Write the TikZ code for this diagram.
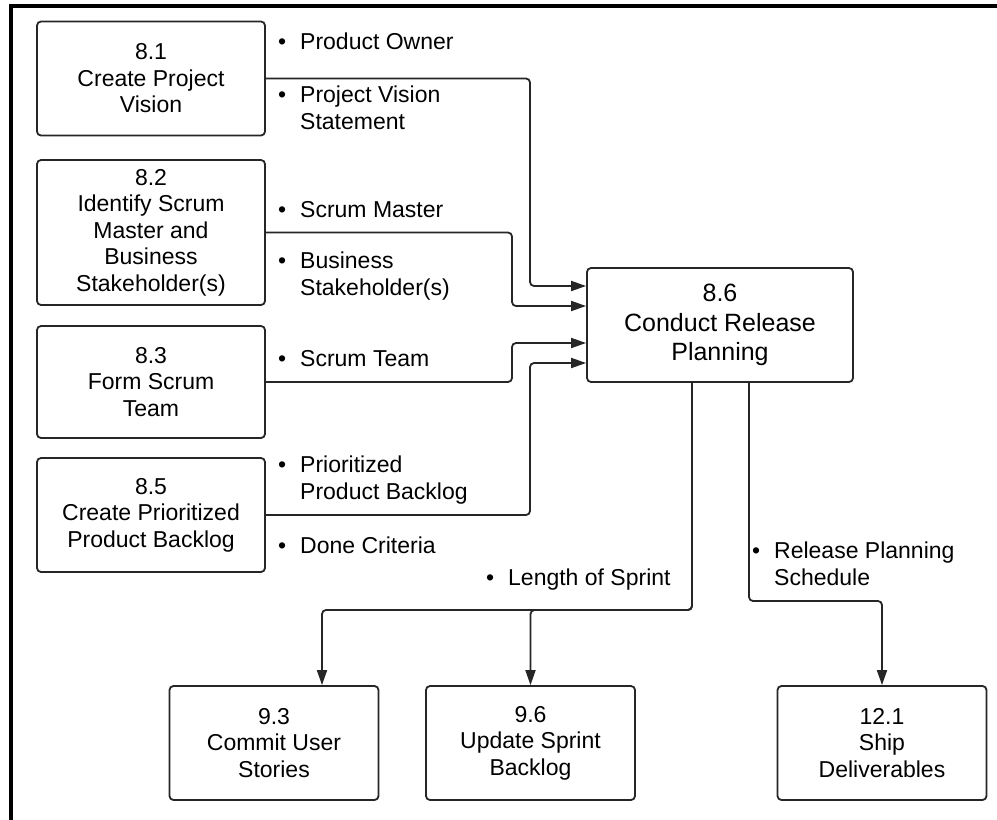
\documentclass[tikz,border=0pt]{standalone}
\usepackage{fontspec}
\setmainfont{Liberation Sans}
\usepackage{tikz}
\usetikzlibrary{arrows.meta}

\newcommand{\bul}{\makebox[22pt][l]{\textbullet}}
\newcommand{\ind}{\hspace*{22pt}}

\begin{document}
\begin{tikzpicture}[
    x=1pt, y=-1pt,
    font=\fontsize{23}{26.5}\selectfont,
    base/.style={draw=black!85, line width=1.8pt, rounded corners=4pt,
                 fill=white, align=center, inner sep=0pt},
    proc/.style={base, minimum width=228pt, minimum height=114pt},
    core/.style={base, minimum width=266pt, minimum height=114pt,
                 font=\fontsize{25}{29.5}\selectfont},
    nxt/.style={base, minimum width=209pt, minimum height=114pt},
    line/.style={-{Triangle[length=15pt, width=10pt]}, line width=1.8pt,
                 draw=black!85, rounded corners=4pt},
    lab/.style={anchor=base west, inner sep=0pt, align=left},
    frame/.style={line width=3.5pt, draw=black},
  ]
  \useasboundingbox (0,0) rectangle (997,820);
  % ---- frame ----
  \draw[frame] (11,820) -- (11,6) -- (997,6);
  % ---- inputs ----
  \node[proc] (p81) at (151,78.5) {8.1\\Create Project\\Vision};
  \node[proc, minimum height=145pt] (p82) at (151,232.5)
      {8.2\\Identify Scrum\\Master and\\Business\\Stakeholder(s)};
  \node[proc, minimum height=112pt] (p83) at (151,382) {8.3\\Form Scrum\\Team};
  \node[proc] (p85) at (151,515) {8.5\\Create Prioritized\\Product Backlog};
  % ---- main process ----
  \node[core] (p86) at (720,325) {8.6\\Conduct Release\\Planning};
  % ---- outputs ----
  \node[nxt] (p93)  at (274,743)   {9.3\\Commit User\\Stories};
  \node[nxt] (p96)  at (530.5,743) {9.6\\Update Sprint\\Backlog};
  \node[nxt] (p121) at (882,743)   {12.1\\Ship\\Deliverables};
  % ---- labels (base = last line) ----
  \node[lab] (lpo)  at (278,49)  {\bul Product Owner};
  \node[lab] (lpv)  at (278,129) {\bul Project Vision\\\ind Statement};
  \node[lab] (lsm)  at (278,217) {\bul Scrum Master};
  \node[lab] (lbs)  at (278,295) {\bul Business\\\ind Stakeholder(s)};
  \node[lab] (lst)  at (278,366) {\bul Scrum Team};
  \node[lab] (lppb) at (278,499) {\bul Prioritized\\\ind Product Backlog};
  \node[lab] (ldc)  at (278,553) {\bul Done Criteria};
  \node[lab] (lls)  at (486,585) {\bul Length of Sprint};
  \node[lab] (lrps) at (752,585) {\bul Release Planning\\\ind Schedule};
  % ---- arrows into 8.6 ----
  \draw[line] (p81.east) -| (530,286) -- ([yshift=39pt]p86.west);
  \draw[line] (p82.east) -| (512,306) -- ([yshift=19pt]p86.west);
  \draw[line] (p83.east) -| (512,343) -- ([yshift=-18pt]p86.west);
  \draw[line] (p85.east) -| (530,363) -- ([yshift=-38pt]p86.west);
  % ---- arrows out of 8.6 ----
  \draw[line] ([xshift=-28pt]p86.south) -- (692,610) -| ([xshift=48pt]p93.north);
  \draw[line] ([xshift=-28pt]p86.south) -- (692,610) -| (p96.north);
  \draw[line] ([xshift=29pt]p86.south) -- (749,601) -| (p121.north);
\end{tikzpicture}
\end{document}
